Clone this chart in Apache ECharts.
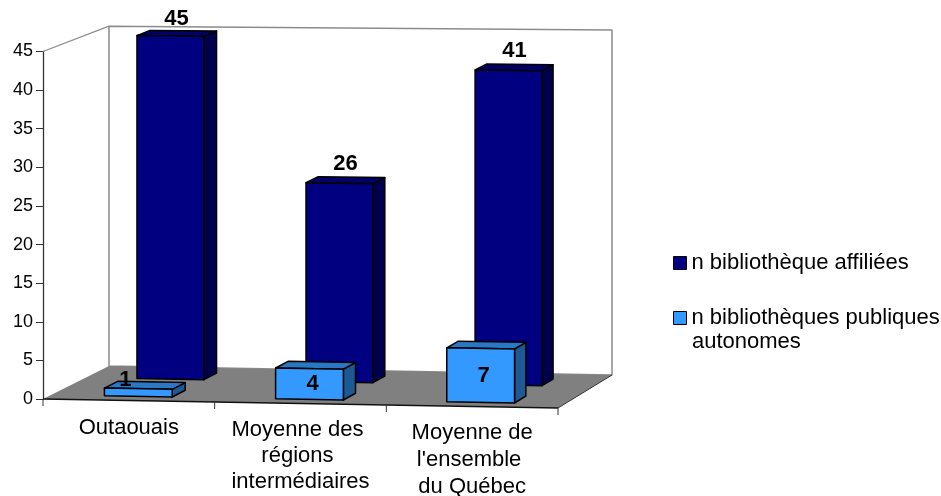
<!DOCTYPE html>
<html><head><meta charset="utf-8">
<style>html,body{margin:0;padding:0;background:#fff}#c{width:941px;height:496px}</style>
<script src="https://cdn.jsdelivr.net/npm/echarts@6/dist/echarts.min.js"></script>
</head><body><div id="c"></div>
<script>
const categories = ["Outaouais", "Moyenne des \nrégions \nintermédiaires", "Moyenne de\nl'ensemble \ndu Québec"];
const affiliated = [45, 26, 41];
const autonomous = [1, 4, 7];
const yTicks = { min: 0, max: 45, interval: 5 };
const seriesNames = ["n bibliothèque affiliées", "n bibliothèques publiques\nautonomes"];

const FONT = '"Liberation Sans", Arial, sans-serif';
const chart = echarts.init(document.getElementById('c'), null, { renderer: 'canvas' });

// Oblique projection: the front plane is the axes' plane, depth 0..1 runs to the back wall.
function projector(api) {
  const x0 = api.coord([0, 0])[0] - api.size([1, 0])[0] / 2;
  const y0 = api.coord([0, 0])[1];
  const w = api.size([1, 0])[0] * categories.length;
  return function (x, value, depth) {
    const t = (x - x0) / w;
    const h = (y0 - api.coord([0, value])[1]) * (1 - depth * (0.022 - 0.015 * t));
    return [
      x + depth * (66 - 12 * t),
      y0 + 9 * t - 33 * depth - h
    ];
  };
}
function poly(points, fill, stroke, lw) {
  return { type: 'polygon', shape: { points }, style: { fill, stroke, lineWidth: lw === undefined ? 1.5 : lw, lineJoin: 'round' } };
}
function seg(a, b, stroke, lw) {
  return { type: 'line', shape: { x1: a[0], y1: a[1], x2: b[0], y2: b[1] }, style: { stroke, lineWidth: lw } };
}

function renderScene(params, api) {
  const p = projector(api);
  const band = api.size([1, 0])[0];
  const x0 = api.coord([0, 0])[0] - band / 2;
  const x1 = x0 + band * categories.length;
  const top = yTicks.max;
  const children = [
    poly([p(x0, 0, 1), p(x1, 0, 1), p(x1, top, 1), p(x0, top, 1)], '#ffffff', '#8c8c8c', 1.5),
    seg(p(x0, top, 0), p(x0, top, 1), '#8c8c8c', 1.3),
    poly([p(x0, 0, 0), p(x0, 0, 1), p(x1, 0, 1), p(x1, 0, 0)], '#808080', null, 0),
    seg(p(x1, 0, 0), p(x1, 0, 1), '#333333', 1),
    seg(p(x0, 0, 0), p(x1, 0, 0), '#111111', 1.4)
  ];
  for (let i = 0; i <= categories.length; i++) {
    const a = p(x0 + band * i, 0, 0);
    children.push(seg(a, [a[0], a[1] + 7], '#333333', 1));
  }
  return { type: 'group', children };
}

function barRenderer(d0, d1, shift, colors, labelMode) {
  return function (params, api) {
    const i = api.value(0), v = api.value(1);
    const p = projector(api);
    const c = api.coord([i, 0])[0] + shift;
    const halfW = api.size([1, 0])[0] * 0.198;
    const l = c - halfW, r = c + halfW;
    const fbl = p(l, 0, d0), fbr = p(r, 0, d0), ftl = p(l, v, d0), ftr = p(r, v, d0);
    const bbr = p(r, 0, d1), btl = p(l, v, d1), btr = p(r, v, d1);
    const children = [
      poly([fbr, bbr, btr, ftr], colors.side, '#000000'),
      poly([ftl, ftr, btr, btl], colors.top, '#000000'),
      poly([fbl, fbr, ftr, ftl], colors.front, '#000000')
    ];
    let lx, ly;
    if (labelMode === 'above') {
      lx = (ftl[0] + ftr[0]) / 2 + 6;
      ly = Math.max(ftl[1] - 19, 19);
    } else {
      lx = (ftl[0] + ftr[0]) / 2 + 3;
      ly = (ftl[1] + fbl[1]) / 2 + 1;
      if (v < 2) { lx -= 16; ly -= 13; }
    }
    children.push({
      type: 'text', z2: 10,
      style: { x: lx, y: ly, text: String(v), align: 'center', verticalAlign: 'middle',
        font: 'bold 22px ' + FONT, fill: '#000000' }
    });
    return { type: 'group', children };
  };
}

const spacer = [1, 3, 5];
const lineH = [26, 26, 27];
const rich = {};
spacer.forEach((sp, i) => {
  rich['s' + i] = { lineHeight: sp, fontSize: 1, fontFamily: FONT, color: '#000' };
  rich['b' + i] = { lineHeight: lineH[i], fontSize: 22, fontFamily: FONT, color: '#000' };
});

chart.setOption({
  animation: false,
  backgroundColor: '#ffffff',
  grid: { left: 43, right: 383, top: 51.5, bottom: 97, outerBoundsMode: 'none' },
  xAxis: {
    type: 'category', data: categories,
    axisLine: { show: false }, axisTick: { show: false }, splitLine: { show: false },
    axisLabel: {
      interval: 0, margin: 15, verticalAlign: 'top',
      formatter: function (val, idx) {
        return '{s' + idx + '| }\n' + val.split('\n').map(s => '{b' + idx + '|' + s + '}').join('\n');
      },
      rich
    }
  },
  yAxis: {
    type: 'value', min: yTicks.min, max: yTicks.max, interval: yTicks.interval,
    axisLine: { show: true, onZero: false, lineStyle: { color: '#333333', width: 1.3 } },
    axisTick: { show: true, length: 7, lineStyle: { color: '#333333' } },
    splitLine: { show: false },
    axisLabel: { margin: 10, fontSize: 18, fontFamily: FONT, color: '#000', padding: [4, 0, 0, 0] }
  },
  legend: {
    orient: 'vertical', left: 668, top: 247, itemWidth: 13, itemHeight: 13, itemGap: 33, itemTextGap: 6,
    selectedMode: false, data: seriesNames, icon: 'rect',
    formatter: n => n.split('\n')[0],
    textStyle: { fontSize: 22, fontFamily: FONT, color: '#000' },
    itemStyle: { borderColor: '#000', borderWidth: 1 }
  },
  graphic: [{
    type: 'text', left: 692, top: 331,
    style: { text: seriesNames[1].split('\n')[1], font: '22px ' + FONT, fill: '#000' }
  }],
  series: [
    { type: 'custom', name: 'scene', z: 1, silent: true, clip: false, renderItem: renderScene, data: [[0, 0]],
      encode: { x: 0, y: 1 } },
    { type: 'custom', name: seriesNames[0], z: 2, clip: false,
      itemStyle: { color: '#000080' },
      renderItem: barRenderer(0.65, 0.85, 0, { front: '#000080', top: '#000068', side: '#00004c' }, 'above'),
      data: affiliated.map((v, i) => [i, v]), encode: { x: 0, y: 1 } },
    { type: 'custom', name: seriesNames[1], z: 3, clip: false,
      itemStyle: { color: '#3399ff' },
      renderItem: barRenderer(0.125, 0.33, 1.5, { front: '#3399ff', top: '#2a78c4', side: '#1d5a94' }, 'inside'),
      data: autonomous.map((v, i) => [i, v]), encode: { x: 0, y: 1 } }
  ]
});
</script></body></html>
